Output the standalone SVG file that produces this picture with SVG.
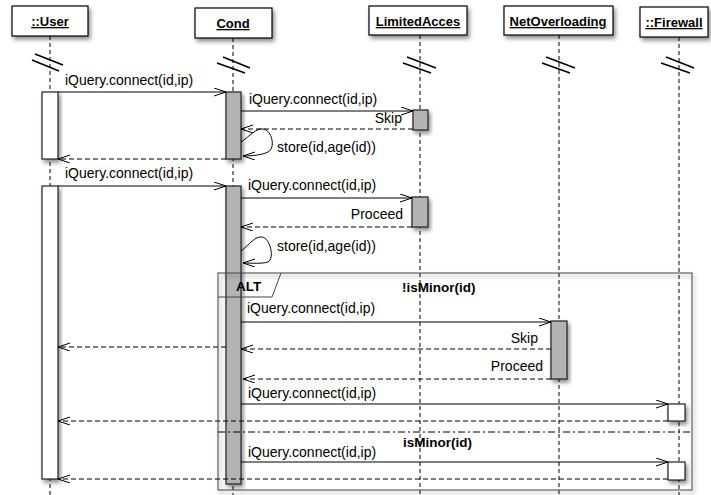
<svg xmlns="http://www.w3.org/2000/svg" width="711" height="495" viewBox="0 0 711 495">
<style>
.hdr{fill:#fff;stroke:#000;stroke-width:1.2}
.htxt{font-family:"Liberation Sans",Arial,sans-serif;font-size:13px;font-weight:bold;text-anchor:middle;text-decoration:underline}
.life{stroke:#000;stroke-width:1;stroke-dasharray:4,3;fill:none}
.brk{stroke:#000;stroke-width:1.5}
.actg{fill:#b3b3b3;stroke:#222;stroke-width:1.2}
.actw{fill:#fff;stroke:#222;stroke-width:1.2}
.msg{stroke:#000;stroke-width:1;fill:none}
.ret{stroke:#000;stroke-width:1;stroke-dasharray:5,3;fill:none}
.lbl{font-family:"Liberation Sans",Arial,sans-serif;font-size:14px;fill:#000}
.lblr{font-family:"Liberation Sans",Arial,sans-serif;font-size:14px;fill:#000;text-anchor:end}
.bold{font-family:"Liberation Sans",Arial,sans-serif;font-size:13.5px;font-weight:bold;fill:#000}
</style>
<defs>
<filter id="sh" x="-20%" y="-20%" width="150%" height="150%">
<feDropShadow dx="2" dy="3" stdDeviation="2" flood-color="#000" flood-opacity="0.45"/>
</filter>
<marker id="ah" markerUnits="userSpaceOnUse" markerWidth="14" markerHeight="10" refX="12" refY="4" orient="auto">
<path d="M0,0 L12,4 L0,8" fill="none" stroke="#000" stroke-width="1"/>
</marker>
</defs>
<rect width="711" height="495" fill="#fff"/>

<g id="lifelines">
<line class="life" x1="50" y1="36" x2="50" y2="495"/>
<line class="life" x1="233" y1="38" x2="233" y2="495"/>
<line class="life" x1="420" y1="35" x2="420" y2="495"/>
<line class="life" x1="559" y1="35" x2="559" y2="495"/>
<line class="life" x1="679" y1="37" x2="679" y2="495"/>
</g>

<g id="breaks">
<line class="brk" x1="35" y1="54" x2="63" y2="65"/>
<line class="brk" x1="32" y1="60" x2="59" y2="71"/>
<line class="brk" x1="223" y1="57" x2="250" y2="68"/>
<line class="brk" x1="217" y1="63" x2="245" y2="73"/>
<line class="brk" x1="407" y1="57" x2="436" y2="68"/>
<line class="brk" x1="403" y1="63" x2="431" y2="73"/>
<line class="brk" x1="546" y1="57" x2="575" y2="68"/>
<line class="brk" x1="542" y1="63" x2="570" y2="73"/>
<line class="brk" x1="666" y1="57" x2="694" y2="68"/>
<line class="brk" x1="661" y1="63" x2="690" y2="73"/>
</g>

<g id="n-user">
<rect class="hdr" x="12" y="6" width="76" height="30" filter="url(#sh)"/>
<text class="htxt" x="50" y="26">::User</text>
</g>
<g id="n-cond">
<rect class="hdr" x="195" y="8" width="77" height="30" filter="url(#sh)"/>
<text class="htxt" x="233" y="28">Cond</text>
</g>
<g id="n-limited">
<rect class="hdr" x="369" y="6" width="98" height="29" filter="url(#sh)"/>
<text class="htxt" x="418" y="26">LimitedAcces</text>
</g>
<g id="n-netover">
<rect class="hdr" x="504" y="6" width="109" height="29" filter="url(#sh)"/>
<text class="htxt" x="558" y="26">NetOverloading</text>
</g>
<g id="n-firewall">
<rect class="hdr" x="640" y="7" width="68" height="30" filter="url(#sh)"/>
<text class="htxt" x="674" y="27">::Firewall</text>
</g>

<g id="activations">
<rect class="actw" x="42" y="92" width="16" height="67" filter="url(#sh)"/>
<rect class="actg" x="226" y="92" width="15" height="67" filter="url(#sh)"/>
<rect class="actg" x="413" y="110" width="15" height="20" filter="url(#sh)"/>
<rect class="actw" x="42" y="186" width="16" height="293" filter="url(#sh)"/>
<rect class="actg" x="226" y="186" width="15" height="298" filter="url(#sh)"/>
<rect class="actg" x="412" y="197" width="16" height="30" filter="url(#sh)"/>
<rect class="actg" x="551" y="321" width="16" height="58" filter="url(#sh)"/>
<rect class="actw" x="668" y="404" width="17" height="17" filter="url(#sh)"/>
<rect class="actw" x="668" y="462" width="17" height="18" filter="url(#sh)"/>
</g>

<g id="alt-frame">
<rect x="218" y="273" width="474" height="217" fill="none" stroke="#444" stroke-width="1" filter="url(#sh)"/>
<path d="M218,297 L272,297 L281,273" fill="none" stroke="#444" stroke-width="1"/>
<text class="bold" x="236" y="291">ALT</text>
<text class="bold" x="402" y="292">!isMinor(id)</text>
<line x1="218" y1="432" x2="692" y2="432" stroke="#000" stroke-width="1" stroke-dasharray="7,3,2,3"/>
<text class="bold" x="403" y="447">isMinor(id)</text>
</g>

<g id="connectors">
<line class="msg" x1="58" y1="92" x2="226" y2="92" marker-end="url(#ah)"/>
<line class="msg" x1="241" y1="111" x2="413" y2="111" marker-end="url(#ah)"/>
<line class="ret" x1="413" y1="129" x2="241" y2="129" marker-end="url(#ah)"/>
<path class="msg" d="M241,142 C250,136 256,128 263,129 C272,130 276,148 268,152 C262,155 252,156 243,156" marker-end="url(#ah)"/>
<line class="ret" x1="226" y1="159" x2="58" y2="159" marker-end="url(#ah)"/>

<line class="msg" x1="58" y1="186" x2="226" y2="186" marker-end="url(#ah)"/>
<line class="msg" x1="241" y1="198" x2="412" y2="198" marker-end="url(#ah)"/>
<line class="ret" x1="412" y1="227" x2="241" y2="227" marker-end="url(#ah)"/>
<path class="msg" d="M241,251 C250,244 255,236 262,237 C270,238 275,258 268,262 C262,264 252,263 243,263" marker-end="url(#ah)"/>

<line class="msg" x1="241" y1="322" x2="551" y2="322" marker-end="url(#ah)"/>
<line class="ret" x1="226" y1="347" x2="58" y2="347" marker-end="url(#ah)"/>
<line class="ret" x1="551" y1="349" x2="241" y2="349" marker-end="url(#ah)"/>
<line class="ret" x1="551" y1="379" x2="243" y2="379" marker-end="url(#ah)"/>
<line class="msg" x1="241" y1="404" x2="668" y2="404" marker-end="url(#ah)"/>
<line class="ret" x1="668" y1="421" x2="58" y2="421" marker-end="url(#ah)"/>
<line class="msg" x1="241" y1="462" x2="668" y2="462" marker-end="url(#ah)"/>
<line class="ret" x1="668" y1="479" x2="58" y2="479" marker-end="url(#ah)"/>
</g>

<g id="labels">
<text class="lbl" x="65" y="85">iQuery.connect(id,ip)</text>
<text class="lbl" x="249" y="104">iQuery.connect(id,ip)</text>
<text class="lblr" x="402" y="123">Skip</text>
<text class="lbl" x="277" y="152">store(id,age(id))</text>
<text class="lbl" x="65" y="178">iQuery.connect(id,ip)</text>
<text class="lbl" x="248" y="190">iQuery.connect(id,ip)</text>
<text class="lblr" x="403" y="219">Proceed</text>
<text class="lbl" x="277" y="251">store(id,age(id))</text>
<text class="lbl" x="247" y="313">iQuery.connect(id,ip)</text>
<text class="lblr" x="538" y="343">Skip</text>
<text class="lblr" x="543" y="371">Proceed</text>
<text class="lbl" x="248" y="398">iQuery.connect(id,ip)</text>
<text class="lbl" x="248" y="457">iQuery.connect(id,ip)</text>
</g>
</svg>
